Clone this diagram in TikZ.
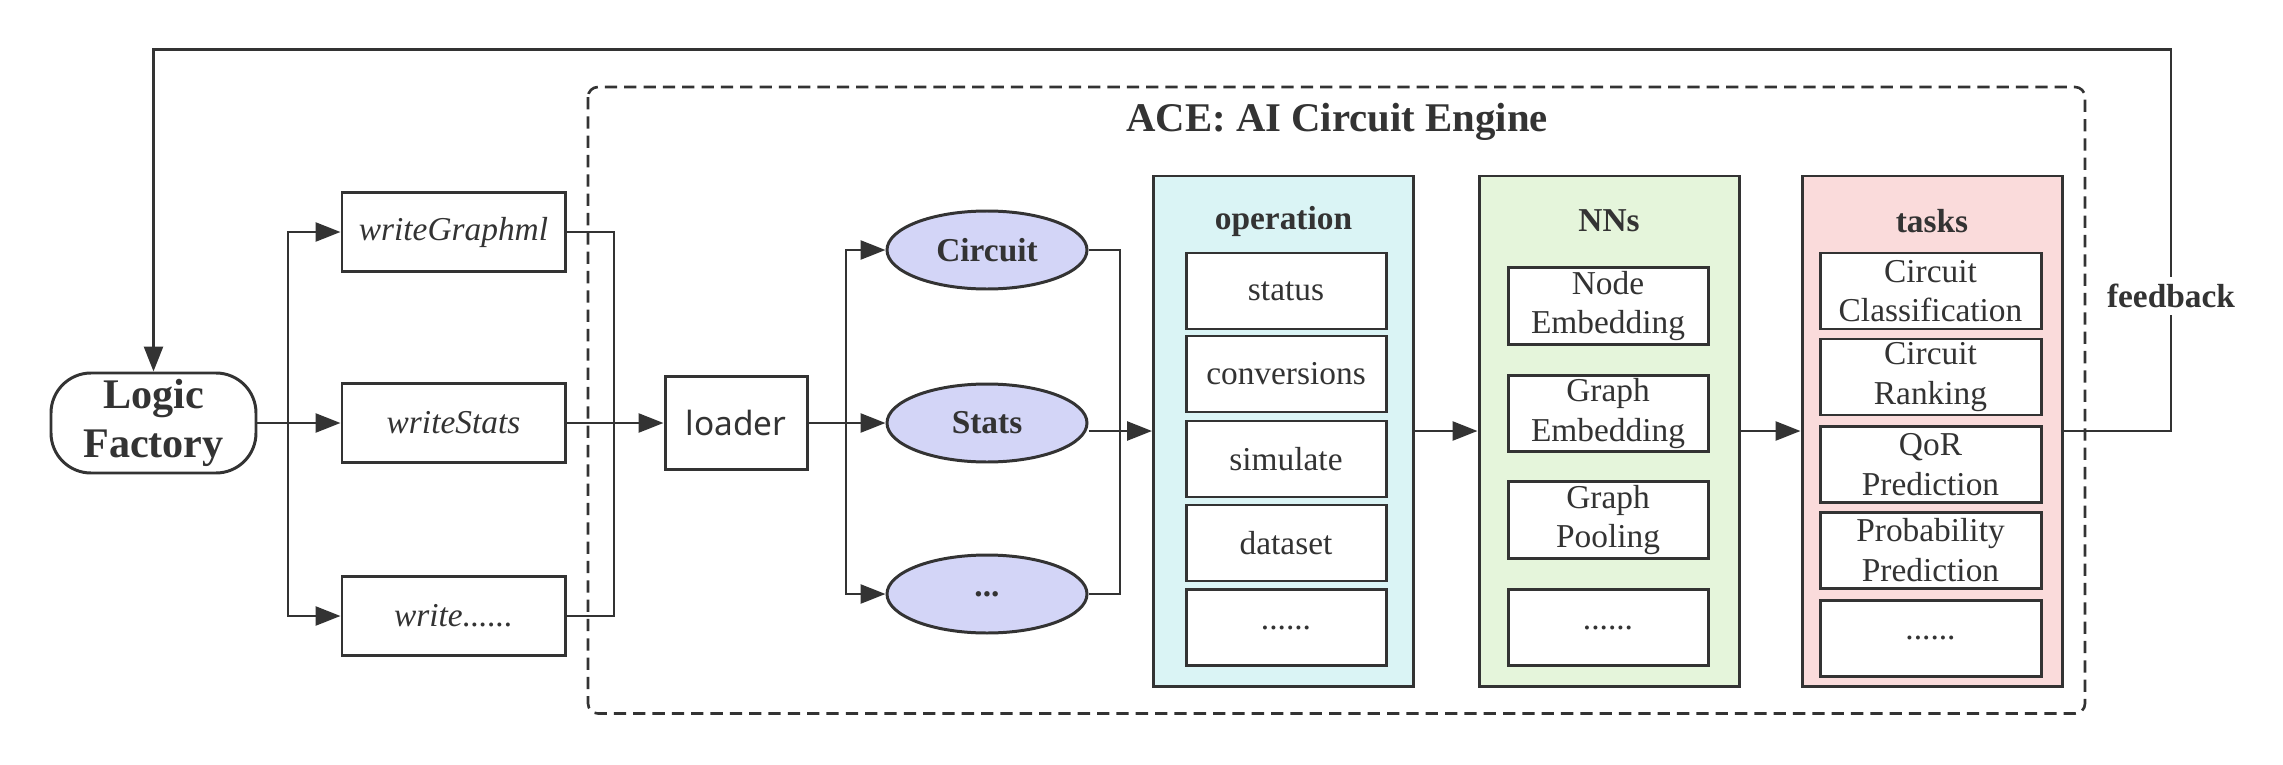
\documentclass[tikz,border=0pt]{standalone}
\usepackage{fontspec}
\setmainfont{Liberation Serif}
\newfontfamily\loaderfont{Noto Sans}
\usetikzlibrary{arrows.meta,shapes.geometric}
\definecolor{linie}{HTML}{333333}
\definecolor{ovalfill}{HTML}{D3D5F7}
\definecolor{opfill}{HTML}{DAF4F5}
\definecolor{nnfill}{HTML}{E5F5DB}
\definecolor{tkfill}{HTML}{FADBDB}

\begin{document}
\begin{tikzpicture}[
    >={Triangle[length=0.25cm,width=0.19cm]},
    every node/.style={text=linie},
    line/.style={draw=linie, line width=0.75pt},
    arrow/.style={line, ->},
    box/.style={draw=linie, line width=0.85pt, fill=white, minimum width=2.0cm,
        minimum height=0.76cm, inner sep=1pt, align=center,
        font=\fontsize{9.5}{11.2}\selectfont},
    writebox/.style={box, minimum width=2.23cm, minimum height=0.79cm,
        font=\fontsize{9.5}{11.2}\selectfont\itshape},
    stage/.style={draw=linie, line width=0.85pt, minimum width=2.6cm, minimum height=5.1cm},
    oval/.style={ellipse, draw=linie, line width=0.85pt, fill=ovalfill, minimum width=2.0cm,
        minimum height=0.78cm, font=\fontsize{9.5}{11.2}\selectfont\bfseries},
    heading/.style={font=\fontsize{9.5}{11.2}\selectfont\bfseries}
]
    \useasboundingbox (0,0) rectangle (22.83,-7.65);

    % Rahmen ACE
    \draw[line, dash pattern=on 3.5pt off 2pt, rounded corners=0.1cm] (5.88,-0.87) rectangle (20.85,-7.135);
    \node[font=\fontsize{11.6}{14}\selectfont\bfseries] (acetitle) at (13.37,-1.22) {ACE: AI Circuit Engine};

    % Eingang
    \node[draw=linie, line width=0.85pt, rounded corners=0.4cm, minimum width=2.05cm, minimum height=1.0cm,
        inner sep=0pt, align=center, font=\fontsize{12}{14}\selectfont\bfseries] (lf) at (1.535,-4.23) {Logic\\Factory};

    % Schreiber
    \node[writebox] (wg) at (4.535,-2.32) {writeGraphml};
    \node[writebox] (ws) at (4.535,-4.23) {writeStats};
    \node[writebox] (wd) at (4.535,-6.16) {write......};
    \coordinate (splitA) at (2.88,0);
    \coordinate (mergeA) at (6.14,0);
    \draw[arrow] (lf.east) -- (ws.west);
    \draw[arrow] (lf.east -| splitA) |- (wg.west);
    \draw[arrow] (lf.east -| splitA) |- (wd.west);
    \draw[line] (wg.east) -| (mergeA |- wd.east) -- (wd.east);

    % Loader
    \node[draw=linie, line width=0.85pt, minimum width=1.42cm, minimum height=0.93cm,
        font=\fontsize{9.5}{11.2}\loaderfont] (loader) at (7.36,-4.23) {loader};
    \draw[arrow] (ws.east) -- (loader.west);

    % Daten
    \node[oval] (circ) at (9.87,-2.50) {Circuit};
    \node[oval] (stats) at (9.87,-4.23) {Stats};
    \node[oval] (more) at (9.87,-5.94) {...};
    \coordinate (splitB) at (8.46,0);
    \coordinate (mergeB) at (11.20,0);
    \draw[arrow] (loader.east) -- (stats.west);
    \draw[arrow] (loader.east -| splitB) |- (circ.west);
    \draw[arrow] (loader.east -| splitB) |- (more.west);
    \draw[line] (circ.east) -| (mergeB |- more.east) -- (more.east);

    % operation
    \node[stage, fill=opfill] (op) at (12.835,-4.31) {};
    \node[heading] (optitle) at (12.835,-2.21) {operation};
    \node[box] (op1) at (12.86,-2.91) {status};
    \node[box] (op2) at (12.86,-3.74) {conversions};
    \node[box] (op3) at (12.86,-4.59) {simulate};
    \node[box] (op4) at (12.86,-5.43) {dataset};
    \node[box] (op5) at (12.86,-6.275) {......};
    \draw[arrow] (stats.east |- op.west) -- (op.west);

    % NNs
    \node[stage, fill=nnfill] (nn) at (16.09,-4.31) {};
    \node[heading] (nntitle) at (16.09,-2.21) {NNs};
    \node[box] (nn1) at (16.08,-3.06) {Node\\Embedding};
    \node[box] (nn2) at (16.08,-4.135) {Graph\\Embedding};
    \node[box] (nn3) at (16.08,-5.20) {Graph\\Pooling};
    \node[box] (nn4) at (16.08,-6.275) {......};
    \draw[arrow] (op.east) -- (nn.west);

    % tasks
    \node[stage, fill=tkfill] (tk) at (19.32,-4.31) {};
    \node[heading] (tktitle) at (19.32,-2.21) {tasks};
    \node[box, minimum width=2.21cm] (tk1) at (19.305,-2.91) {Circuit\\Classification};
    \node[box, minimum width=2.21cm] (tk2) at (19.305,-3.77) {Circuit\\Ranking};
    \node[box, minimum width=2.21cm] (tk3) at (19.305,-4.645) {QoR\\Prediction};
    \node[box, minimum width=2.21cm] (tk4) at (19.305,-5.50) {Probability\\Prediction};
    \node[box, minimum width=2.21cm] (tk5) at (19.305,-6.38) {......};
    \draw[arrow] (nn.east) -- (tk.west);

    % Rueckkopplung
    \coordinate (fbtop) at (21.71,-0.495);
    \draw[arrow] (tk.east) -| (fbtop) -| (lf.north);
    \node[heading, fill=white, inner sep=2pt] (fb) at (21.71,-2.96) {feedback};
\end{tikzpicture}
\end{document}
